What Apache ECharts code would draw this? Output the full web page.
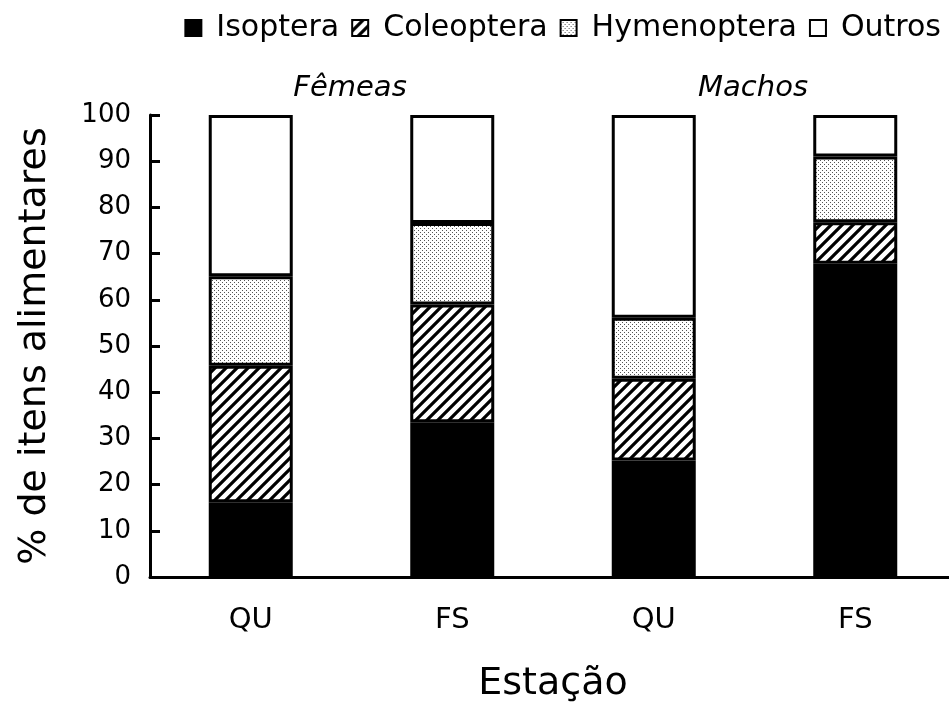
<!DOCTYPE html>
<html>
<head>
<meta charset="utf-8">
<script src="https://cdn.jsdelivr.net/npm/echarts@6/dist/echarts.min.js"></script>
<style>
html,body{margin:0;padding:0;background:#fff;}
#chart{width:949px;height:705px;}
</style>
</head>
<body>
<div id="chart"></div>
<script>
const categories = ['QU', 'FS', 'QU', 'FS'];
const groupLabels = ['Fêmeas', 'Machos'];
const seriesNames = ['Isoptera', 'Coleoptera', 'Hymenoptera', 'Outros'];
const isoptera = [16.2, 33.5, 25.2, 67.8];
const coleoptera = [29.5, 25.5, 17.7, 9.0];
const hymenoptera = [19.4, 17.6, 13.2, 14.2];
const outros = [34.9, 23.4, 43.9, 9.0];
const yTicks = [0, 10, 20, 30, 40, 50, 60, 70, 80, 90, 100];

function hatchPattern() {
  const s = 11;
  const c = document.createElement('canvas');
  c.width = s; c.height = s;
  const g = c.getContext('2d');
  g.fillStyle = '#fff'; g.fillRect(0, 0, s, s);
  g.strokeStyle = '#000'; g.lineWidth = 3.2;
  g.beginPath();
  g.moveTo(-2, s + 2); g.lineTo(s + 2, -2);
  g.moveTo(-s / 2 - 2, s / 2 + 2); g.lineTo(s / 2 + 2, -s / 2 - 2);
  g.moveTo(s / 2 - 2, s * 1.5 + 2); g.lineTo(s * 1.5 + 2, s / 2 - 2);
  g.stroke();
  return c;
}
function dotPattern() {
  const c = document.createElement('canvas');
  c.width = 4; c.height = 4;
  const g = c.getContext('2d');
  g.fillStyle = '#fff'; g.fillRect(0, 0, 4, 4);
  g.fillStyle = '#555';
  g.fillRect(0, 0, 1, 1);
  g.fillRect(2, 2, 1, 1);
  return c;
}

const fills = ['#000', { image: hatchPattern(), repeat: 'repeat' }, { image: dotPattern(), repeat: 'repeat' }, '#fff'];
const values = [isoptera, coleoptera, hymenoptera, outros];

const chart = echarts.init(document.getElementById('chart'));
const font = 'DejaVu Sans, Verdana, sans-serif';
chart.setOption({
  animation: false,
  backgroundColor: '#fff',
  textStyle: { fontFamily: font, color: '#000' },
  legend: {
    top: 8, right: 3,
    itemWidth: 16, itemHeight: 16, itemGap: 12,
    icon: 'rect',
    textStyle: { fontSize: 30, fontFamily: font, color: '#000', padding: [0, 0, 0, 10] },
    itemStyle: { borderWidth: 2, borderColor: '#000' },
    data: seriesNames
  },
  graphic: [
    { type: 'text', x: 350, y: 88, style: { text: groupLabels[0], font: 'italic 29px DejaVu Sans', fill: '#000', align: 'center', verticalAlign: 'middle' } },
    { type: 'text', x: 753, y: 88, style: { text: groupLabels[1], font: 'italic 29px DejaVu Sans', fill: '#000', align: 'center', verticalAlign: 'middle' } }
  ],
  grid: { left: 150, top: 115, width: 806, height: 462, outerBoundsMode: 'none', containLabel: false },
  xAxis: {
    type: 'category',
    data: categories,
    boundaryGap: true,
    name: 'Estação',
    nameLocation: 'middle',
    nameGap: 88,
    nameTextStyle: { fontSize: 38, fontFamily: font, color: '#000' },
    axisLine: { lineStyle: { color: '#000', width: 3 } },
    axisTick: { inside: true, length: 10, lineStyle: { color: '#000', width: 3 } },
    axisLabel: { fontSize: 29, color: '#000', margin: 29, fontFamily: font },
    splitLine: { show: false }
  },
  yAxis: {
    type: 'value',
    min: yTicks[0], max: yTicks[yTicks.length - 1], interval: 10,
    name: '% de itens alimentares',
    nameLocation: 'middle',
    nameGap: 96,
    nameTextStyle: { fontSize: 38, fontFamily: font, color: '#000' },
    axisLine: { show: true, lineStyle: { color: '#000', width: 3 } },
    axisTick: { show: true, inside: true, length: 10, lineStyle: { color: '#000', width: 3 } },
    axisLabel: { fontSize: 26, color: '#000', margin: 19, fontFamily: font },
    splitLine: { show: false }
  },
  series: seriesNames.map((n, i) => ({
    name: n,
    type: 'bar',
    stack: 'total',
    barWidth: 84,
    data: values[i],
    itemStyle: { color: fills[i], borderColor: '#000', borderWidth: 3 }
  }))
});
</script>
</body>
</html>
